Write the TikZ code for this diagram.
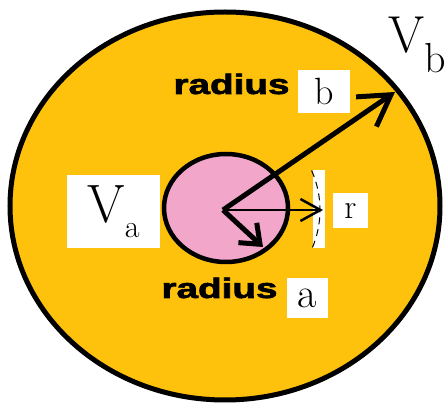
\documentclass[tikz,border=0pt]{standalone}
\usepackage{fontspec}
\newfontfamily\radfont{Liberation Sans Bold}[FakeBold=2]
\usepackage{graphicx}
\usetikzlibrary{arrows.meta}
\definecolor{Gold}{RGB}{254,193,12}
\definecolor{Rose}{RGB}{242,166,202}
\begin{document}
\begin{tikzpicture}[x=1pt, y=-1pt, lbl/.style={fill=white, inner sep=0pt, align=center},
  rad/.style={anchor=base, inner sep=0pt, font=\fontsize{28}{28}\selectfont\radfont},
  bigar/.style={line width=5pt, -{Straight Barb[length=30pt, width=36pt]}}, smallar/.style={line width=5pt, -{Straight Barb[length=17pt, width=27pt]}},
  thinar/.style={line width=2.5pt, -{Straight Barb[length=20pt, width=22pt]}}]
\useasboundingbox (0,0) rectangle (445,403);
\draw[line width=5pt, fill=Gold] (225,206) ellipse [x radius=215, y radius=194];
\draw[line width=4.5pt, fill=Rose] (226,208) ellipse [x radius=62, y radius=54];
\coordinate (o) at (223,210);
\coordinate (tb) at (395,92);
\coordinate (ta) at (263,247);
\coordinate (tr) at (323,210);
% dashed arc of radius r
\fill[white] (313,170) rectangle (325,248);
\draw[line width=1pt, dash pattern=on 7pt off 5pt] (o) ++(-24:97) arc[start angle=-24, end angle=24, radius=97];
\draw[bigar] (o) -- (tb); \draw[smallar] (o) -- (ta); \draw[thinar] (o) -- (tr);
\node[rad] (rb) at (231.5,94) {\scalebox{1.38}[1]{radius}};
\node[lbl, minimum width=52pt, minimum height=43pt, font=\fontsize{38}{38}\selectfont] (lb) at (324,91.5) {b};
\node[rad] (ra) at (219.5,298) {\scalebox{1.38}[1]{radius}};
\node[lbl, minimum width=41pt, minimum height=40pt, font=\fontsize{42}{42}\selectfont] (la) at (307.5,298) {a};
\node[lbl, minimum width=35pt, minimum height=35pt, font=\fontsize{34}{34}\selectfont] (lr) at (350.5,211) {r};
\node[lbl, minimum width=93pt, minimum height=73pt, font=\fontsize{54}{54}\selectfont] (va) at (113.5,211.5) {V\raisebox{-15pt}{\fontsize{32}{32}\selectfont a}};
\node[inner sep=0pt, anchor=base west, font=\fontsize{52}{52}\selectfont] (vb) at (388,53) {V\raisebox{-20pt}{\fontsize{42}{42}\selectfont b}};
\end{tikzpicture}
\end{document}
